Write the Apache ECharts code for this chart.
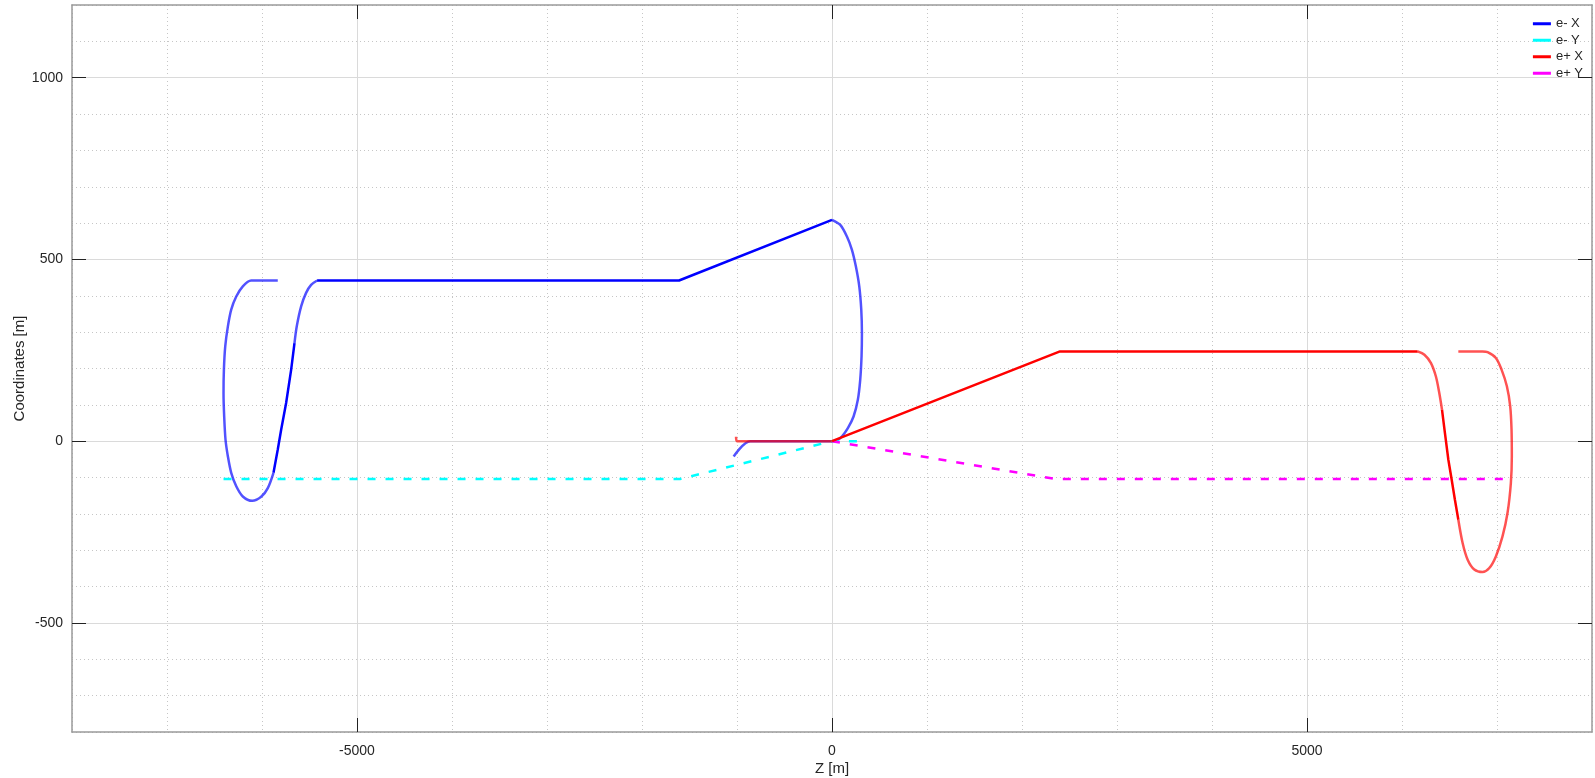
<!DOCTYPE html>
<html>
<head>
<meta charset="utf-8">
<script src="https://cdn.jsdelivr.net/npm/echarts@6/dist/echarts.min.js"></script>
<style>
  html, body { margin: 0; padding: 0; background: #fff; }
  #chart { width: 1595px; height: 778px; }
</style>
</head>
<body>
<div id="chart"></div>
<script>
// tick values
const xMajorTicks = [-5000, 0, 5000]
const yMajorTicks = [-500, 0, 500, 1000]

// trajectories, [Z, coordinate] in metres
const eMinusX = [
  [-1035, -42], [-860, 0], [0, 0],
  [52, 2], [104, 13], [167, 36], [227, 68], [272, 114], [297, 169], [311, 233],
  [315, 298], [308, 362], [287, 426], [251, 481], [209, 527], [157, 563], [87, 595],
  [0, 609], [-1610, 442], [-5420, 442],
  [-5483, 430], [-5536, 408], [-5588, 371], [-5634, 316], [-5658, 270], [-5693, 197],
  [-5746, 105], [-5798, 32], [-5834, -23], [-5879, -87],
  [-5939, -129], [-6009, -153], [-6103, -164], [-6202, -152], [-6271, -124], [-6324, -87],
  [-6359, -42], [-6384, 4], [-6398, 68], [-6405, 132], [-6401, 197], [-6387, 261],
  [-6359, 316], [-6324, 362], [-6271, 398], [-6202, 426], [-6114, 442], [-5834, 442]
]
const eMinusY = [[-6405, -104], [-1600, -104], [0, 0], [315, 0]]
const ePlusX = [
  [-1010, 12], [-1000, 0], [0, 0], [2400, 247], [6165, 247],
  [6236, 238], [6305, 215], [6357, 178], [6393, 132], [6421, 87], [6452, 22],
  [6488, -51], [6523, -106], [6557, -161], [6593, -216],
  [6638, -280], [6691, -326], [6761, -353], [6848, -360], [6919, -349], [6988, -317],
  [7058, -262], [7111, -197], [7146, -115], [7156, -42], [7153, 32], [7139, 96],
  [7104, 151], [7048, 197], [6988, 229], [6901, 245], [6848, 247], [6593, 247]
]
const ePlusY = [[0, 0], [2350, -104], [7156, -104]]

// index ranges of the path drawn denser (darker) in the original
const eMinusXDense = [[17, 19], [24, 29]]
const ePlusXDense = [[2, 4], [9, 14]]

const FONT = 'Liberation Sans, Arial, sans-serif'
const TEXT = '#262626'
const FRAME = '#9a9a9a'

function pathSeries(name, color, path, dense) {
  const out = []
  // dense parts first so the legend takes its icon from them
  dense.forEach(([a, b]) => {
    out.push({
      name, type: 'line', data: path.slice(a, b + 1),
      symbol: 'none', z: 4,
      lineStyle: { color, width: 2.5 }, itemStyle: { color }
    })
  })
  // the rest, lighter and smoothed
  let start = 0
  const light = []
  dense.forEach(([a, b]) => {
    if (a > start) light.push([start, a])
    start = b
  })
  if (start < path.length - 1) light.push([start, path.length - 1])
  light.forEach(([a, b]) => {
    out.push({
      name, type: 'line', data: path.slice(a, b + 1),
      symbol: 'none', smooth: 0.3, z: 3,
      lineStyle: { color, width: 2.5, opacity: 0.68 }, itemStyle: { color }
    })
  })
  return out
}

function dashSeries(name, color, path) {
  return {
    name, type: 'line', data: path, symbol: 'none', z: 3,
    lineStyle: { color, width: 2.5, type: [8, 10] }, itemStyle: { color }
  }
}

function axisSet(min, max, interval, majors, main, side, extra) {
  return [
    // dotted fine grid
    {
      type: 'value', min, max, interval, position: side[1], z: 0,
      axisLine: { show: false, onZero: false }, axisTick: { show: false },
      axisLabel: { show: false },
      splitLine: { show: true, lineStyle: { color: '#c6c6c6', width: 1, type: [1, 3] } }
    },
    // main axis: ticks, labels, solid grid at majors
    Object.assign({
      type: 'value', min, max, interval, position: side[0], z: 2,
      axisLine: { show: true, onZero: false, lineStyle: { color: FRAME, width: 1.5 } },
      axisTick: { show: true, inside: true, length: 14, customValues: majors, lineStyle: { color: '#222', width: 1 } },
      axisLabel: {
        customValues: majors, formatter: (v) => String(v),
        fontFamily: FONT, fontSize: 14, color: TEXT, margin: main
      },
      splitLine: { show: true, lineStyle: { color: '#dadada', width: 1 } }
    }, extra),
    // mirrored frame side
    {
      type: 'value', min, max, interval, position: side[1], z: 2,
      axisLine: { show: true, onZero: false, lineStyle: { color: FRAME, width: 1.5 } },
      axisTick: { show: true, inside: true, length: 14, customValues: majors, lineStyle: { color: '#222', width: 1 } },
      axisLabel: { show: false },
      splitLine: { show: false }
    }
  ]
}

const chart = echarts.init(document.getElementById('chart'))

const xAxes = axisSet(-8000, 8000, 1000, xMajorTicks, 12, ['bottom', 'top'], {
  name: 'Z [m]', nameLocation: 'middle', nameGap: 29, nameMoveOverlap: false,
  nameTextStyle: { fontFamily: FONT, fontSize: 15, color: TEXT }
})
const yAxes = axisSet(-800, 1200, 100, yMajorTicks, 9, ['left', 'right'], {
  name: 'Coordinates [m]', nameLocation: 'middle', nameGap: 45, nameMoveOverlap: false,
  nameTextStyle: { fontFamily: FONT, fontSize: 15, color: TEXT }
})

const series = [
  ...pathSeries('e- X', '#0000ff', eMinusX, eMinusXDense),
  dashSeries('e- Y', '#00ffff', eMinusY),
  ...pathSeries('e+ X', '#ff0000', ePlusX, ePlusXDense),
  dashSeries('e+ Y', '#ff00ff', ePlusY)
].map((s) => Object.assign(s, { xAxisIndex: 1, yAxisIndex: 1, silent: true, animation: false }))

chart.setOption({
  animation: false,
  backgroundColor: '#fff',
  grid: { left: 72, right: 3, top: 5, bottom: 46, containLabel: false, outerBoundsMode: 'none' },
  legend: {
    data: ['e- X', 'e- Y', 'e+ X', 'e+ Y'],
    orient: 'vertical', right: 7, top: 11,
    icon: 'rect', itemWidth: 18, itemHeight: 3, itemGap: 1, padding: [5, 5, 5, 5],
    textStyle: { fontFamily: FONT, fontSize: 13, color: TEXT, lineHeight: 15.5 }
  },
  xAxis: xAxes,
  yAxis: yAxes,
  series
})

window.addEventListener('resize', () => chart.resize())
</script>
</body>
</html>
